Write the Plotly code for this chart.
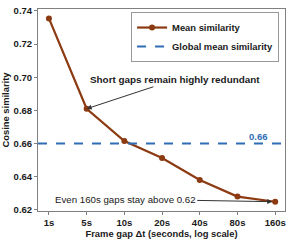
import plotly.graph_objects as go

gaps = ["1s", "5s", "10s", "20s", "40s", "80s", "160s"]
mean_sim = [0.7355, 0.681, 0.6615, 0.6513, 0.638, 0.628, 0.6249]
global_mean = 0.66
y_ticks = [0.62, 0.64, 0.66, 0.68, 0.70, 0.72, 0.74]

FONT = "Liberation Sans, Arial, sans-serif"
BROWN = "#8B3A12"
BLUE = "#2F6DB5"
INK = "#1a1a1a"

fig = go.Figure()
fig.add_trace(go.Scatter(
    x=gaps, y=mean_sim, mode="lines+markers", name="<b>Mean similarity</b>",
    line=dict(color=BROWN, width=2.2),
    marker=dict(color=BROWN, size=6),
))
fig.add_trace(go.Scatter(
    x=[None], y=[None], mode="lines",
    name="<b>Global mean similarity</b>", showlegend=True,
    line=dict(color=BLUE, width=2, dash="dash"), hoverinfo="skip",
))
fig.add_hline(y=global_mean, line=dict(color=BLUE, width=2, dash="dash"))

fig.add_annotation(x=gaps[1], y=mean_sim[1], ax=88, ay=-29,
                   text="<b>Short gaps remain highly redundant</b>",
                   showarrow=True, arrowhead=2, arrowsize=1, arrowwidth=1,
                   arrowcolor="#333333",
                   font=dict(family=FONT, size=9.9, color=INK))
fig.add_annotation(x=gaps[6], y=mean_sim[6], ax=-150, ay=-2.5,
                   text="Even 160s gaps stay above 0.62",
                   showarrow=True, arrowhead=2, arrowsize=1, arrowwidth=1,
                   arrowcolor="#333333", standoff=3,
                   font=dict(family=FONT, size=9.7, color=INK))
fig.add_annotation(x=5.55, y=global_mean, yshift=7, text="<b>0.66</b>", showarrow=False,
                   font=dict(family=FONT, size=9.5, color=BLUE))

fig.update_layout(
    width=291, height=242,
    margin=dict(l=36, r=6, t=5, b=30),
    paper_bgcolor="white", plot_bgcolor="white",
    font=dict(family=FONT, size=9.5, color=INK),
    showlegend=True,
    legend=dict(x=0.976, y=0.985, xanchor="right", yanchor="top",
                bordercolor="#999999", borderwidth=1, bgcolor="white",
                font=dict(family=FONT, size=9.4, color=INK),
                itemwidth=30, tracegroupgap=0),
)
fig.update_xaxes(
    type="category", range=[-0.29, 6.26],
    tickvals=gaps, ticktext=[f"<b>{g}</b>" for g in gaps],
    title=dict(text="<b>Frame gap Δt (seconds, log scale)</b>", standoff=2,
               font=dict(family=FONT, size=9.4)),
    showline=True, linecolor="#808080", linewidth=1, mirror=True,
    ticks="outside", ticklen=3, tickcolor="#808080", showgrid=False,
    tickfont=dict(family=FONT, size=9.5),
)
fig.update_yaxes(
    range=[0.6193, 0.7412],
    tickvals=y_ticks, ticktext=[f"<b>{v:.2f}</b>" for v in y_ticks],
    title=dict(text="<b>Cosine similarity</b>", standoff=2,
               font=dict(family=FONT, size=9.4)),
    showline=True, linecolor="#808080", linewidth=1, mirror=True,
    ticks="outside", ticklen=3, tickcolor="#808080", showgrid=False,
    zeroline=False,
    tickfont=dict(family=FONT, size=9.5),
)
fig.write_html("out.html", config={"displayModeBar": False},
               post_script="document.body.style.margin='0';")
